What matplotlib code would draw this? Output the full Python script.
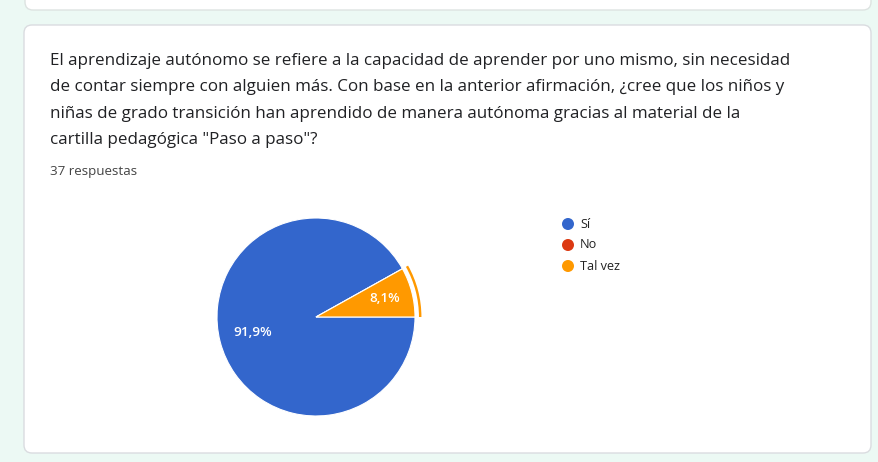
import matplotlib.pyplot as plt
from matplotlib.patches import FancyBboxPatch, Wedge, Circle

# === Data ===
categories = ['Sí', 'No', 'Tal vez']
values = [91.9, 0.0, 8.1]
colors = ['#3366cc', '#dc3912', '#ff9900']
pct_labels = ['91,9%', '', '8,1%']

question_lines = [
    'El aprendizaje autónomo se refiere a la capacidad de aprender por uno mismo, sin necesidad',
    'de contar siempre con alguien más. Con base en la anterior afirmación, ¿cree que los niños y',
    'niñas de grado transición han aprendido de manera autónoma gracias al material de la',
    'cartilla pedagógica "Paso a paso"?',
]
n_resp = '37 respuestas'

W, H = 879, 462
plt.rcParams['font.family'] = ['Open Sans', 'DejaVu Sans']
fig = plt.figure(figsize=(W / 100, H / 100), dpi=100)
fig.patch.set_facecolor('#ecf9f4')

# background axes in pixel coords (y down)
bg = fig.add_axes([0, 0, 1, 1])
bg.set_xlim(0, W)
bg.set_ylim(H, 0)
bg.axis('off')

# previous card (only its bottom visible)
bg.add_patch(FancyBboxPatch((25, -40), 846, 50, boxstyle='round,pad=0,rounding_size=8',
                            facecolor='white', edgecolor='#dde3e1', lw=1))
# main card
bg.add_patch(FancyBboxPatch((24, 25), 847, 428, boxstyle='round,pad=0,rounding_size=8',
                            facecolor='white', edgecolor='#dadce0', lw=1))

for i, line in enumerate(question_lines):
    bg.text(50, 61 + i * 26.3, line, fontsize=12.25, color='#202124', va='center', ha='left')
bg.text(50, 171, n_resp, fontsize=9.6, color='#444444', va='center', ha='left')

# legend
for i, (cat, col) in enumerate(zip(categories, colors)):
    y = 224 + i * 21
    bg.add_patch(Circle((568, y), 6, facecolor=col, edgecolor='none'))
    bg.text(580, y, cat, fontsize=9.1, color='#222222', va='center', ha='left')

# === Pie ===
cx, cy, r = 316, 317, 99
half = r * 1.1
ax = fig.add_axes([(cx - half) / W, (H - cy - half) / H, 2 * half / W, 2 * half / H])
wedges, _ = ax.pie(values, colors=colors, startangle=0, counterclock=False,
                   wedgeprops=dict(edgecolor='white', linewidth=0.8))
ax.set_xlim(-1.1, 1.1)
ax.set_ylim(-1.1, 1.1)
ax.set_aspect('equal')

# highlight ring around the selected slice
sel = wedges[2]
ax.add_patch(Wedge((0, 0), 1.065, sel.theta1, sel.theta2, width=0.025,
                   facecolor=colors[2], edgecolor='none'))

ax.text(-0.64, -0.16, pct_labels[0], color='white', fontsize=9.7, fontweight='semibold',
        ha='center', va='center')
ax.text(0.69, 0.19, pct_labels[2], color='white', fontsize=9.7, fontweight='semibold',
        ha='center', va='center')

plt.savefig('out.png', dpi=100, facecolor=fig.get_facecolor())
